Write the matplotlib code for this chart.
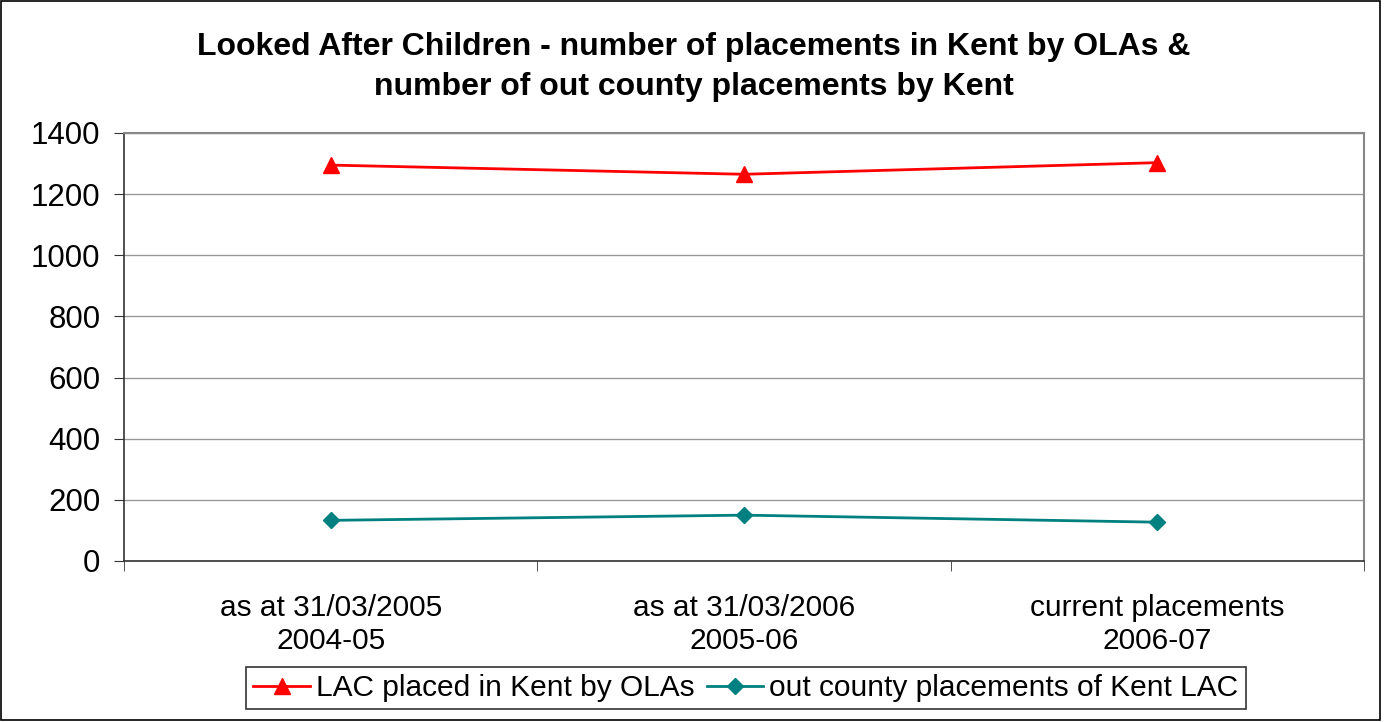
import matplotlib.pyplot as plt
from matplotlib.patches import Rectangle

plt.rcParams["font.family"] = ["Liberation Sans", "DejaVu Sans"]

# Placement counts per period
periods = ["as at 31/03/2005\n2004-05", "as at 31/03/2006\n2005-06", "current placements\n2006-07"]
placed_in_kent = [1295, 1265, 1303]
out_county = [133, 150, 127]
y_ticks = [0, 200, 400, 600, 800, 1000, 1200, 1400]

fig = plt.figure(figsize=(13.87, 7.22), dpi=100)
# outer chart border
fig.patches.append(Rectangle((0.001, 0.003), 0.994, 0.995, transform=fig.transFigure,
                             fill=False, edgecolor="black", linewidth=1.2))

ax = fig.add_axes([124 / 1387, 161 / 722, 1240 / 1387, 428 / 722])
x = list(range(len(periods)))

ax.plot(x, placed_in_kent, color="#ff0000", linewidth=2, marker="^", markersize=11,
        label="LAC placed in Kent by OLAs")
ax.plot(x, out_county, color="#008080", linewidth=2, marker="D", markersize=8,
        label="out county placements of Kent LAC")

ax.set_xlim(-0.5, len(periods) - 0.5)
ax.set_ylim(0, 1400)
ax.set_yticks(y_ticks)
ax.yaxis.grid(True, color="#999999", linewidth=1)
ax.set_axisbelow(True)

ax.set_xticks(x)
ax.set_xticklabels(periods, fontsize=21.5, linespacing=1.2)
ax.set_xticks([i - 0.5 for i in range(len(periods) + 1)], minor=True)
ax.tick_params(axis="x", which="major", length=0, pad=24)
ax.tick_params(axis="x", which="minor", length=7, direction="out", color="#333333")
ax.tick_params(axis="y", labelsize=22.5, length=7, direction="out", color="#333333", pad=10)

for side in ["top", "right"]:
    ax.spines[side].set_color("#888888")
    ax.spines[side].set_linewidth(1.5)
for side in ["left", "bottom"]:
    ax.spines[side].set_color("#333333")
    ax.spines[side].set_linewidth(1.2)

fig.text(0.5, 1 - 67 / 722, "Looked After Children - number of placements in Kent by OLAs &\n"
         "number of out county placements by Kent", ha="center", va="center",
         fontsize=23, fontweight="bold", linespacing=1.4)

leg = fig.legend(loc="center", bbox_to_anchor=(746 / 1387, 1 - 688 / 722), ncol=2,
                 fontsize=21.5, frameon=True, fancybox=False, edgecolor="black",
                 handlelength=1.9, handletextpad=0.2, columnspacing=0.4,
                 borderpad=0.25, borderaxespad=0)
leg.get_frame().set_linewidth(1.2)

fig.savefig("out.png", dpi=100)
